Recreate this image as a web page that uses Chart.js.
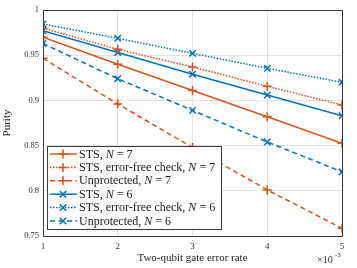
<!DOCTYPE html>
<html>
<head>
<meta charset="utf-8">
<script src="https://cdn.jsdelivr.net/npm/chart.js@4/dist/chart.umd.min.js"></script>
<style>
    html, body { margin: 0; padding: 0; background: #fff; }
    #wrap { width: 357px; height: 268px; }
</style>
</head>
<body>
<div id="wrap"><canvas id="purityChart" width="357" height="268"></canvas></div>
<script>
/* ---- DATA ---- */
const errorRates = [1, 2, 3, 4, 5];            // x 10^-3
const yTicks = [0.75, 0.8, 0.85, 0.9, 0.95, 1];

const stsN7      = [0.970, 0.940, 0.911, 0.882, 0.8525];
const stsFreeN7  = [0.980, 0.9565, 0.937, 0.9156, 0.895];
const unprotN7   = [0.9466, 0.896, 0.848, 0.801, 0.7585];
const stsN6      = [0.977, 0.953, 0.929, 0.906, 0.883];
const stsFreeN6  = [0.9845, 0.9687, 0.952, 0.9355, 0.920];
const unprotN6   = [0.963, 0.924, 0.889, 0.854, 0.821];

const ORANGE = '#D95319';
const BLUE = '#0072BD';
const SERIF = '"Liberation Serif", "DejaVu Serif", serif';

const DOTTED = [1.5, 1.5];
const DASHED = [5, 3.5];

function series(label, values, color, dash, marker) {
    return {
        label: label,
        data: errorRates.map((x, i) => ({ x: x, y: values[i] })),
        borderColor: color,
        backgroundColor: color,
        borderWidth: 1.5,
        borderDash: dash,
        pointStyle: marker,
        pointRadius: 4.5,
        pointBorderWidth: 1.5,
        pointHoverRadius: 4.5,
        tension: 0
    };
}

const datasets = [
    series(['STS, ', 'N', ' = 7'], stsN7, ORANGE, [], 'cross'),
    series(['STS, error-free check, ', 'N', ' = 7'], stsFreeN7, ORANGE, DOTTED, 'cross'),
    series(['Unprotected, ', 'N', ' = 7'], unprotN7, ORANGE, DASHED, 'cross'),
    series(['STS, ', 'N', ' = 6'], stsN6, BLUE, [], 'crossRot'),
    series(['STS, error-free check, ', 'N', ' = 6'], stsFreeN6, BLUE, DOTTED, 'crossRot'),
    series(['Unprotected, ', 'N', ' = 6'], unprotN6, BLUE, DASHED, 'crossRot')
];

/* ---- PLUGINS ---- */
const boxPlugin = {
    id: 'axesBox',
    afterDatasetsDraw(chart) {
        const { ctx, chartArea: a } = chart;
        ctx.save();
        ctx.strokeStyle = '#3a3a3a';
        ctx.lineWidth = 1;
        ctx.strokeRect(a.left + 0.5, a.top + 0.5, a.right - a.left, a.bottom - a.top);
        // exponent label
        ctx.fillStyle = '#333';
        ctx.textBaseline = 'alphabetic';
        ctx.font = '10px ' + SERIF;
        ctx.fillText('\u00d710', 317, 263);
        ctx.font = '7px ' + SERIF;
        ctx.fillText('-3', 335, 257);
        ctx.restore();
    }
};

const legendPlugin = {
    id: 'boxLegend',
    afterDatasetsDraw(chart) {
        const ctx = chart.ctx;
        const left = 47, top = 146, right = 221, bottom = 229;
        ctx.save();
        ctx.fillStyle = '#fff';
        ctx.fillRect(left, top, right - left, bottom - top);
        ctx.strokeStyle = '#3a3a3a';
        ctx.lineWidth = 1;
        ctx.strokeRect(left + 0.5, top + 0.5, right - left, bottom - top);

        chart.data.datasets.forEach((ds, i) => {
            const y = 154 + i * 13.4;
            ctx.strokeStyle = ds.borderColor;
            ctx.lineWidth = 1.5;
            ctx.setLineDash(ds.borderDash);
            ctx.beginPath();
            ctx.moveTo(50, y);
            ctx.lineTo(77, y);
            ctx.stroke();
            ctx.setLineDash([]);
            // marker
            const r = 4.5, mx = 63;
            ctx.beginPath();
            if (ds.pointStyle === 'cross') {
                ctx.moveTo(mx - r, y); ctx.lineTo(mx + r, y);
                ctx.moveTo(mx, y - r); ctx.lineTo(mx, y + r);
            } else {
                const d = r * 0.7071;
                ctx.moveTo(mx - d, y - d); ctx.lineTo(mx + d, y + d);
                ctx.moveTo(mx - d, y + d); ctx.lineTo(mx + d, y - d);
            }
            ctx.stroke();
            // text with italic N
            ctx.fillStyle = '#222';
            ctx.textBaseline = 'middle';
            let tx = 79;
            ds.label.forEach((part, k) => {
                ctx.font = (k === 1 ? 'italic ' : '') + '12px ' + SERIF;
                ctx.fillText(part, tx, y + 0.5);
                tx += ctx.measureText(part).width;
            });
        });
        ctx.restore();
    }
};

/* ---- CHART ---- */
new Chart(document.getElementById('purityChart'), {
    type: 'line',
    data: { datasets: datasets },
    options: {
        responsive: false,
        animation: false,
        events: [],
        layout: { padding: { top: 10, right: 15, left: 0, bottom: 0 } },
        plugins: {
            legend: { display: false },
            tooltip: { enabled: false }
        },
        scales: {
            x: {
                type: 'linear',
                min: 1,
                max: 5,
                afterFit: s => { s.height = 32; },
                afterBuildTicks: s => { s.ticks = errorRates.map(v => ({ value: v })); },
                grid: { color: '#e3e3e3', drawTicks: false },
                border: { display: false },
                ticks: {
                    padding: 5,
                    color: '#333',
                    font: { family: SERIF, size: 9 },
                    callback: v => String(v)
                },
                title: {
                    display: true,
                    text: 'Two-qubit gate error rate',
                    color: '#222',
                    font: { family: SERIF, size: 11 },
                    padding: { top: 0, bottom: 3 }
                }
            },
            y: {
                min: 0.75,
                max: 1,
                afterFit: s => { s.width = 43; },
                afterBuildTicks: s => { s.ticks = yTicks.map(v => ({ value: v })); },
                grid: { color: '#e3e3e3', drawTicks: false },
                border: { display: false },
                ticks: {
                    padding: 4,
                    color: '#333',
                    font: { family: SERIF, size: 8.5 },
                    callback: v => String(+v.toFixed(2))
                },
                title: {
                    display: true,
                    text: 'Purity',
                    color: '#222',
                    font: { family: SERIF, size: 11 },
                    padding: { top: 1, bottom: 0 }
                }
            }
        }
    },
    plugins: [boxPlugin, legendPlugin]
});
</script>
</body>
</html>
